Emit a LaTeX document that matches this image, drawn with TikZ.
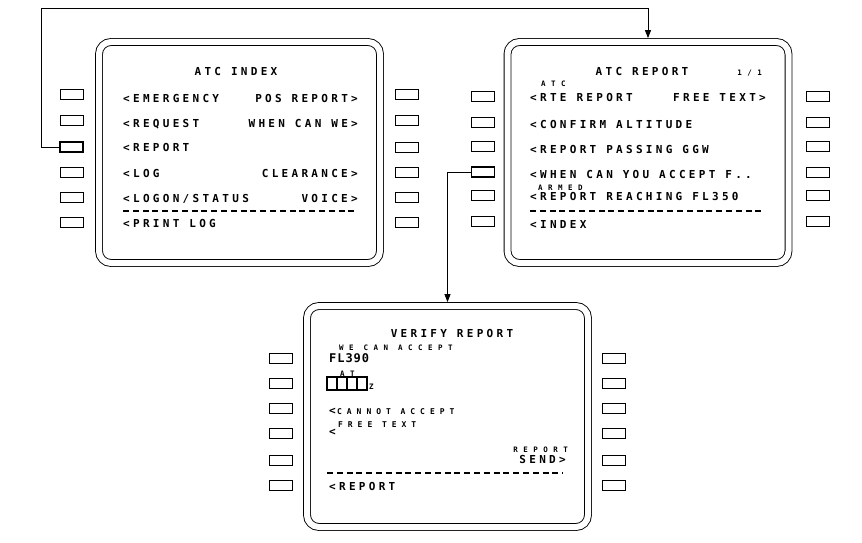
\documentclass[tikz,border=0pt]{standalone}
\usepackage{fontspec}
\usetikzlibrary{arrows.meta,calc}
\newfontfamily\fmsbig[LetterSpace=30]{DejaVu Sans Mono}
\newfontfamily\fmsmid[LetterSpace=8]{DejaVu Sans Mono}
\newfontfamily\fmssmall[LetterSpace=73]{DejaVu Sans Mono}
\newfontfamily\fmssmallb[LetterSpace=62]{DejaVu Sans Mono}
\begin{document}
\begin{tikzpicture}[x=1pt,y=-1pt,
  screen/.style={draw, double, double distance=6pt, line width=0.9pt, rounded corners=12pt,
    inner sep=0pt, outer sep=3.9pt, minimum width=281pt, minimum height=221pt},
  key/.style={draw, line width=0.8pt, minimum width=23pt, minimum height=10pt, inner sep=0pt},
  keyon/.style={key, line width=1.6pt},
  big/.style={inner sep=0pt, font=\fmsbig\bfseries\fontsize{11}{11}\selectfont},
  mid/.style={inner sep=0pt, font=\fmsmid\bfseries\fontsize{12}{12}\selectfont},
  sm/.style={inner sep=0pt, font=\fmssmall\bfseries\fontsize{7.5}{7.5}\selectfont},
  smb/.style={inner sep=0pt, font=\fmssmallb\bfseries\fontsize{8}{8}\selectfont},
  L/.style={anchor=base west}, R/.style={anchor=base east}, C/.style={anchor=base},
  sepline/.style={dash pattern=on 6pt off 3.8pt, line width=1.1pt},
  link/.style={line width=0.8pt, -{Triangle[length=8pt,width=6pt]}},
  entry/.style={line width=1.5pt}]
\useasboundingbox (0,0) rectangle (862,543);

% screens
\node[screen] (s1) at (239.5,152.5) {};
\node[screen] (s2) at (648,152.5) {};
\node[screen] (s3) at (447.5,416.5) {};

% keys screen 1
\foreach \y [count=\i] in {94,120,147,172,197,222}{
  \ifnum\i=3 \node[keyon] (s1l\i) at (71.5,\y) {}; \else \node[key] (s1l\i) at (71.5,\y) {}; \fi
  \node[key] (s1r\i) at (406.5,\y) {};
}
% keys screen 2
\foreach \y [count=\i] in {96,122,146,172,195,221}{
  \ifnum\i=4 \node[keyon] (s2l\i) at (483,\y) {}; \else \node[key] (s2l\i) at (483,\y) {}; \fi
  \node[key] (s2r\i) at (818,\y) {};
}
% keys screen 3
\foreach \y [count=\i] in {358,383,408,433,460,485}{
  \node[key] (s3l\i) at (280.5,\y) {};
  \node[key] (s3r\i) at (614,\y) {};
}

% connectors
\coordinate (c1) at (41,8);
\draw[link] (s1l3.west) -| (c1) -| (s2.north);
\draw[link] (s2l4.west) -| (s3.north);

% screen 1 text
\node[big,C] (a0) at (236,76) {ATC INDEX};
\node[big,L] (a1) at (123,102) {<EMERGENCY};
\node[big,R] (a2) at (358,102) {POS REPORT>};
\node[big,L] (a3) at (123,127) {<REQUEST};
\node[big,R] (a4) at (358,127) {WHEN CAN WE>};
\node[big,L] (a5) at (123,151) {<REPORT};
\node[big,L] (a6) at (123,177) {<LOG};
\node[big,R] (a7) at (358,177) {CLEARANCE>};
\node[big,L] (a8) at (123,202) {<LOGON/STATUS};
\node[big,R] (a9) at (358,202) {VOICE>};
\draw[sepline] (123,211) -- (355,211);
\node[big,L] (a10) at (123,227) {<PRINT LOG};

% screen 2 text
\node[big,C] (b0) at (642,76) {ATC REPORT};
\node[sm,R] (b1) at (762,75) {1/1};
\node[sm,L] (b2) at (541,86.5) {ATC};
\node[big,L] (b3) at (530,101) {<RTE REPORT};
\node[big,R] (b4) at (766,101) {FREE TEXT>};
\node[big,L] (b5) at (530,128) {<CONFIRM ALTITUDE};
\node[big,L] (b6) at (530,153) {<REPORT PASSING GGW};
\node[big,L] (b7) at (530,178) {<WHEN CAN YOU ACCEPT F..};
\node[sm,L] (b8) at (538,190.5) {ARMED};
\node[big,L] (b9) at (530,200) {<REPORT REACHING FL350};
\draw[sepline] (530,211) -- (763,211);
\node[big,L] (b10) at (530,228) {<INDEX};

% screen 3 text
\node[big,C] (d0) at (452,337) {VERIFY REPORT};
\node[sm,L] (d1) at (339,350) {WE CAN ACCEPT};
\node[mid,L] (d2) at (329,362.5) {FL390};
\node[sm,L] (d3) at (340,376) {AT};
\draw[entry] (327,377) rectangle (367,390);
\draw[entry] (337,377) -- (337,390) (347,377) -- (347,390) (357,377) -- (357,390);
\node[sm,L] (d4) at (369,389.5) {Z};
\node[big,L] (d5) at (329,414) {<};
\node[smb,L] (d6) at (337,414) {CANNOT ACCEPT};
\node[smb,L] (d7) at (338,427) {FREE TEXT};
\node[big,L] (d8) at (329,435) {<};
\node[sm,R] (d9) at (568,452) {REPORT};
\node[big,R] (d10) at (566,463) {SEND>};
\draw[sepline] (327,473) -- (563,473);
\node[big,L] (d11) at (329,490) {<REPORT};
\end{tikzpicture}
\end{document}
